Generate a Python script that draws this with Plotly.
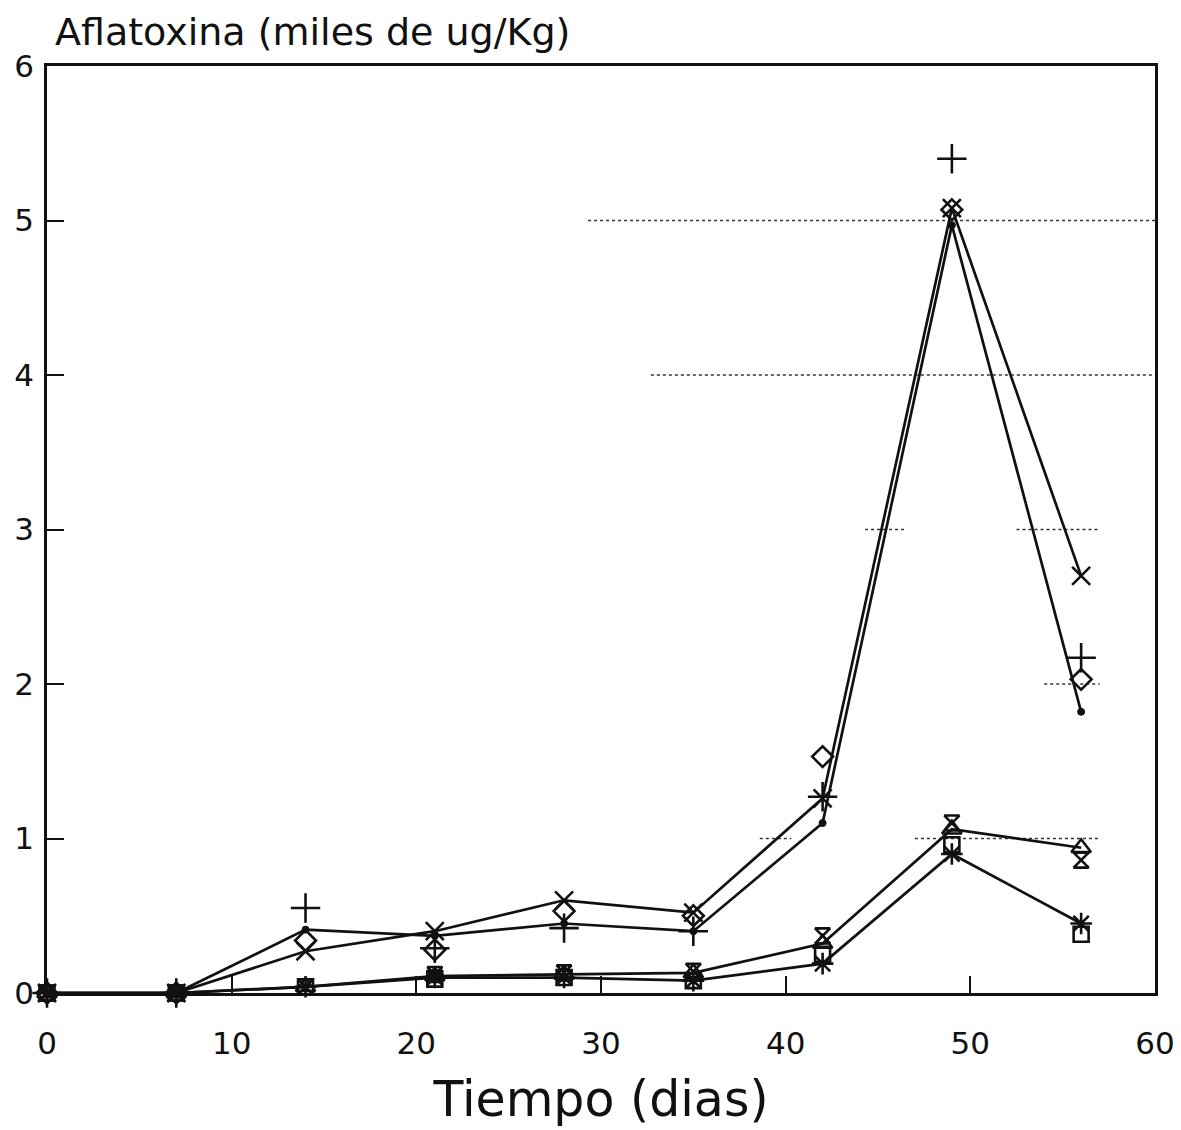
import plotly.graph_objects as go

# ---- data ----
days = [0, 7, 14, 21, 28, 35, 42, 49, 56]

# upper group
dot_line = [0, 0, 0.41, 0.37, 0.45, 0.40, 1.10, 4.97, 1.82]
x_line = [0, 0, 0.27, 0.40, 0.60, 0.52, 1.26, 5.08, 2.70]
plus_pts = [0, 0, 0.55, 0.29, 0.42, 0.40, 1.27, 5.40, 2.17]
diamond_pts = [0, 0, 0.34, 0.28, 0.53, 0.50, 1.53, 5.07, 2.03]

# lower group
tri_line = [0, 0, 0.04, 0.11, 0.12, 0.13, 0.32, 1.06, 0.94]
ast_line = [0, 0, 0.04, 0.10, 0.10, 0.08, 0.19, 0.90, 0.45]
square_pts = [0, 0, 0.04, 0.09, 0.10, 0.08, 0.25, 0.96, 0.38]
hourglass_pts = [0, 0, 0.04, 0.12, 0.13, 0.14, 0.37, 1.10, 0.86]

x_ticks = [0, 10, 20, 30, 40, 50, 60]
y_ticks = [0, 1, 2, 3, 4, 5, 6]

# partial dotted grid segments seen in the scan: (y, x_start, x_end)
grid_segments = [(5, 29.3, 60), (4, 32.7, 60), (3, 44.3, 46.5), (3, 52.5, 57.0),
                 (2, 54.0, 57.0), (1, 38.6, 40.3), (1, 47.0, 57.0)]

x_title = "Tiempo (dias)"
y_title = "Aflatoxina (miles de ug/Kg)"

FONT = "DejaVu Sans"
BLACK = "#111111"

fig = go.Figure()

for y, x0, x1 in grid_segments:
    fig.add_shape(type="line", xref="x", yref="y", x0=x0, x1=x1, y0=y, y1=y,
                  line=dict(color="#333333", width=1.5, dash="dot"), layer="below")

def add(yvals, mode, symbol, size, lw=2.6):
    fig.add_trace(go.Scatter(
        x=days, y=yvals, mode=mode,
        line=dict(color=BLACK, width=2.7),
        marker=dict(symbol=symbol, size=size, color=BLACK,
                    line=dict(color=BLACK, width=lw)),
        showlegend=False, cliponaxis=False))

add(dot_line, "lines+markers", "circle", 7, 1)
add(x_line, "lines+markers", "x-thin-open", 18)
add(plus_pts, "markers", "cross-thin-open", 21)
add(diamond_pts, "markers", "diamond-open", 16)
add(tri_line, "lines+markers", "triangle-up-open", 17)
add(ast_line, "lines+markers", "asterisk-open", 18)
add(square_pts, "markers", "square-open", 15)
add(hourglass_pts, "markers", "hourglass-open", 15)

axis_common = dict(showline=True, linecolor=BLACK, linewidth=2.5, mirror=True,
                   ticks="inside", ticklen=17, tickwidth=2, tickcolor=BLACK,
                   showgrid=False, zeroline=False, automargin=False,
                   tickfont=dict(family=FONT, size=31, color=BLACK))

fig.update_xaxes(range=[0, 60], tickvals=x_ticks, ticklabelstandoff=21,
                 title=dict(text=x_title, font=dict(family=FONT, size=49, color=BLACK),
                            standoff=22),
                 **axis_common)
fig.update_yaxes(range=[0, 6], tickvals=y_ticks, ticklabelstandoff=4, **axis_common)

fig.add_annotation(text=y_title, xref="paper", yref="paper", x=0, y=1,
                   xanchor="left", yanchor="bottom", xshift=6, yshift=10,
                   showarrow=False, font=dict(family=FONT, size=38, color=BLACK))

fig.update_layout(width=1181, height=1130, paper_bgcolor="white", plot_bgcolor="white",
                  margin=dict(l=47, r=26, t=66, b=137))

fig.write_html("out.html")
